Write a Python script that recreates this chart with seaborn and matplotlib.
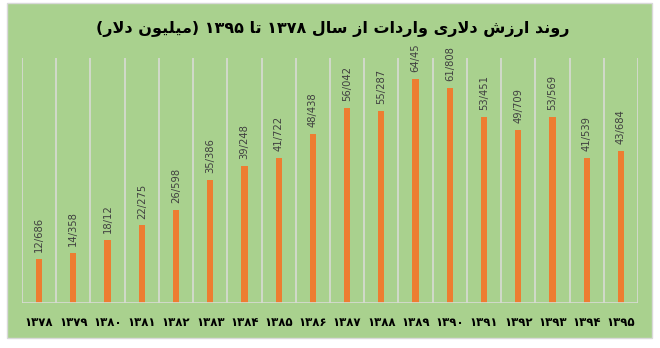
import matplotlib
matplotlib.use("Agg")
import matplotlib.pyplot as plt
from matplotlib.patches import Rectangle
import seaborn as sns
import pandas as pd

# Import value (billion USD) per Iranian calendar year
years = ["۱۳۷۸", "۱۳۷۹", "۱۳۸۰", "۱۳۸۱", "۱۳۸۲", "۱۳۸۳", "۱۳۸۴", "۱۳۸۵", "۱۳۸۶",
         "۱۳۸۷", "۱۳۸۸", "۱۳۸۹", "۱۳۹۰", "۱۳۹۱", "۱۳۹۲", "۱۳۹۳", "۱۳۹۴", "۱۳۹۵"]
imports = [12.686, 14.358, 18.12, 22.275, 26.598, 35.386, 39.248, 41.722, 48.438,
           56.042, 55.287, 64.45, 61.808, 53.451, 49.709, 53.569, 41.539, 43.684]
title_text = "روند ارزش دلاری واردات از سال ۱۳۷۸ تا ۱۳۹۵ (میلیون دلار)"

# --- minimal Arabic-script shaping (presentation forms + visual order) ---
FORMS = {  # iso, fin, ini, med
    "ا": ("\uFE8D", "\uFE8E", None, None),
    "د": ("\uFEA9", "\uFEAA", None, None),
    "ر": ("\uFEAD", "\uFEAE", None, None),
    "ز": ("\uFEAF", "\uFEB0", None, None),
    "و": ("\uFEED", "\uFEEE", None, None),
    "ن": ("\uFEE5", "\uFEE6", "\uFEE7", "\uFEE8"),
    "ش": ("\uFEB5", "\uFEB6", "\uFEB7", "\uFEB8"),
    "ل": ("\uFEDD", "\uFEDE", "\uFEDF", "\uFEE0"),
    "ت": ("\uFE95", "\uFE96", "\uFE97", "\uFE98"),
    "س": ("\uFEB1", "\uFEB2", "\uFEB3", "\uFEB4"),
    "م": ("\uFEE1", "\uFEE2", "\uFEE3", "\uFEE4"),
    "ی": ("\uFBFC", "\uFBFD", "\uFBFE", "\uFBFF"),
}
LAM_ALEF = ("\uFEFB", "\uFEFC")


def dual(c):
    return c in FORMS and FORMS[c][2] is not None


def shape(text):
    out = []
    i = 0
    n = len(text)
    while i < n:
        c = text[i]
        if c not in FORMS:
            out.append(c)
            i += 1
            continue
        prev = text[i - 1] if i > 0 else ""
        joins_prev = dual(prev)
        if c == "ل" and i + 1 < n and text[i + 1] == "ا":
            out.append(LAM_ALEF[1] if joins_prev else LAM_ALEF[0])
            i += 2
            continue
        nxt = text[i + 1] if i + 1 < n else ""
        joins_next = dual(c) and nxt in FORMS
        iso, fin, ini, med = FORMS[c]
        if joins_prev and joins_next:
            out.append(med)
        elif joins_prev:
            out.append(fin)
        elif joins_next:
            out.append(ini)
        else:
            out.append(iso)
        i += 1
    # visual order: reverse, keep digit runs left-to-right, mirror brackets
    vis = "".join(out)[::-1]
    res, run = [], ""
    for ch in vis:
        if ch.isdigit():
            run += ch
        else:
            if run:
                res.append(run[::-1])
                run = ""
            res.append({"(": ")", ")": "("}.get(ch, ch))
    if run:
        res.append(run[::-1])
    return "".join(res)


GREEN = "#a9d18e"
ORANGE = "#ed7d31"
GRID = "#d8dbd4"

sns.set_theme(style="white")
plt.rcParams["font.family"] = ["DejaVu Sans"]

df = pd.DataFrame({"year": years, "value": imports})

W, H = 660, 348
fig = plt.figure(figsize=(W / 100, H / 100), dpi=100, facecolor="white")
fig.patches.append(Rectangle((7 / W, 10 / H), 645 / W, 335 / H, transform=fig.transFigure,
                             facecolor=GREEN, edgecolor="#d9d9d9", linewidth=1, zorder=-5))

ax = fig.add_axes([22 / W, (H - 303) / H, 616 / W, 245 / H])
ax.patch.set_alpha(0)

sns.barplot(data=df, x="year", y="value", color=ORANGE, width=0.18, saturation=1,
            edgecolor=ORANGE, linewidth=0, ax=ax)

ax.set_ylim(0, 70.4)
ax.set_xlim(-0.5, len(years) - 0.5)
for b in range(len(years) + 1):
    ax.axvline(b - 0.5, color=GRID, linewidth=1.2, zorder=0)
ax.axhline(0, color=GRID, linewidth=1.2, zorder=3)

labels = [f"{v:g}".replace(".", "/") for v in imports]
ax.bar_label(ax.containers[0], labels=labels, rotation=90, padding=5,
             fontsize=7.2, color="#404040")

for s in ax.spines.values():
    s.set_visible(False)
ax.set_yticks([])
ax.set_xlabel("")
ax.set_ylabel("")
ax.tick_params(axis="x", length=0, pad=9)
ax.set_xticks(range(len(years)))
ax.set_xticklabels(years, fontsize=8.5, fontweight="bold", color="black")

fig.text(333 / W, (H - 29) / H, shape(title_text), ha="center", va="center",
         fontsize=11.5, fontweight="bold", color="black")

fig.savefig("out.png", dpi=100, facecolor="white")
